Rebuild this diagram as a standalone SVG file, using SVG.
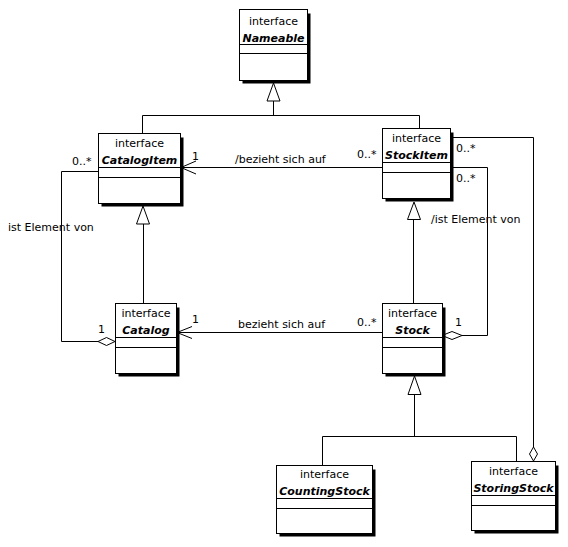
<svg xmlns="http://www.w3.org/2000/svg" width="568" height="547" viewBox="0 0 568 547">
<style>
.sh{fill:#000}
.bx{fill:#fff;stroke:#000;stroke-width:1}
.dv{stroke:#000;stroke-width:1}
text{font-family:"DejaVu Sans","Liberation Sans",sans-serif;font-size:11px;fill:#000}
.st{text-anchor:middle}
.nm{text-anchor:middle;font-weight:bold;font-style:italic}
.ln{fill:none;stroke:#000;stroke-width:1}
.tri{fill:#fff;stroke:#000;stroke-width:1}
.dia{fill:#fff;stroke:#000;stroke-width:1}
</style>
<rect width="568" height="547" fill="#fff"/>
<g id="connectors">
  <!-- generalizations to Nameable -->
  <polyline class="ln" points="273.5,101 273.5,115.5"/>
  <polyline class="ln" points="142.5,133 142.5,115.5 419.5,115.5 419.5,128"/>
  <polygon class="tri" points="273.5,83 280,101 267,101"/>
  <!-- Catalog to CatalogItem -->
  <polyline class="ln" points="143.5,224 143.5,303"/>
  <polygon class="tri" points="143,206 149.5,224 136.5,224"/>
  <!-- Stock to StockItem -->
  <polyline class="ln" points="413.5,219 413.5,303"/>
  <polygon class="tri" points="414,202 420.5,219.5 407.5,219.5"/>
  <!-- Counting/Storing to Stock -->
  <polyline class="ln" points="414.5,394 414.5,436.5"/>
  <polyline class="ln" points="322.5,465 322.5,436.5 516.5,436.5 516.5,461"/>
  <polygon class="tri" points="414.5,376 421,394.5 408,394.5"/>
  <!-- /bezieht sich auf -->
  <polyline class="ln" points="181,167.5 382,167.5"/>
  <polyline class="ln" points="196,161 181,167.5 196,174"/>
  <!-- bezieht sich auf -->
  <polyline class="ln" points="177,332.5 382,332.5"/>
  <polyline class="ln" points="192,326.5 177,332.5 192,338.5"/>
  <!-- ist Element von (Catalog) -->
  <polyline class="ln" points="98,171.5 61.5,171.5 61.5,341.5 98,341.5"/>
  <polygon class="dia" points="98,341.5 106.5,337.5 115,341.5 106.5,345.5"/>
  <!-- /ist Element von (Stock) -->
  <polyline class="ln" points="450,167.5 487.5,167.5 487.5,335.5 462,335.5"/>
  <polygon class="dia" points="442,335.5 452,331.5 462,335.5 452,339.5"/>
  <!-- StockItem to StoringStock -->
  <polyline class="ln" points="450,137.5 533.5,137.5 533.5,447"/>
  <polygon class="dia" points="533.5,447 537.5,454 533.5,461 529.5,454"/>
  <!-- labels -->
  <text x="192" y="160">1</text>
  <text x="235" y="163">/bezieht sich auf</text>
  <text x="357" y="158">0..*</text>
  <text x="72" y="165">0..*</text>
  <text x="8" y="231">ist Element von</text>
  <text x="456" y="152">0..*</text>
  <text x="456" y="182">0..*</text>
  <text x="431" y="223">/ist Element von</text>
  <text x="192" y="323">1</text>
  <text x="238" y="328">bezieht sich auf</text>
  <text x="357" y="326">0..*</text>
  <text x="98" y="333">1</text>
  <text x="455" y="326">1</text>
</g>
<g id="Nameable">
  <rect class="sh" x="242.5" y="13.5" width="68" height="70"/>
  <rect class="bx" x="239.5" y="9.5" width="68" height="71"/>
  <line class="dv" x1="239.5" y1="44.5" x2="307.5" y2="44.5"/>
  <line class="dv" x1="239.5" y1="53.5" x2="307.5" y2="53.5"/>
  <text class="st" x="273.5" y="25">interface</text>
  <text class="nm" x="273.5" y="42">Nameable</text>
</g>
<g id="CatalogItem">
  <rect class="sh" x="101.5" y="137.5" width="82" height="69"/>
  <rect class="bx" x="98.5" y="133.5" width="82" height="70"/>
  <line class="dv" x1="98.5" y1="167.5" x2="180.5" y2="167.5"/>
  <line class="dv" x1="98.5" y1="177.5" x2="180.5" y2="177.5"/>
  <text class="st" x="139.5" y="147">interface</text>
  <text class="nm" x="139.5" y="164">CatalogItem</text>
</g>
<g id="StockItem">
  <rect class="sh" x="385.5" y="132.5" width="68" height="69"/>
  <rect class="bx" x="382.5" y="128.5" width="68" height="70"/>
  <line class="dv" x1="382.5" y1="162.5" x2="450.5" y2="162.5"/>
  <line class="dv" x1="382.5" y1="172.5" x2="450.5" y2="172.5"/>
  <text class="st" x="416.5" y="142">interface</text>
  <text class="nm" x="416.5" y="158.5">StockItem</text>
</g>
<g id="Catalog">
  <rect class="sh" x="118.5" y="307.5" width="61" height="69"/>
  <rect class="bx" x="115.5" y="303.5" width="61" height="70"/>
  <line class="dv" x1="115.5" y1="337.5" x2="176.5" y2="337.5"/>
  <line class="dv" x1="115.5" y1="347.5" x2="176.5" y2="347.5"/>
  <text class="st" x="146" y="317">interface</text>
  <text class="nm" x="146" y="334">Catalog</text>
</g>
<g id="Stock">
  <rect class="sh" x="385.5" y="307.5" width="60" height="69"/>
  <rect class="bx" x="382.5" y="303.5" width="60" height="70"/>
  <line class="dv" x1="382.5" y1="337.5" x2="442.5" y2="337.5"/>
  <line class="dv" x1="382.5" y1="347.5" x2="442.5" y2="347.5"/>
  <text class="st" x="412.5" y="317">interface</text>
  <text class="nm" x="412.5" y="334">Stock</text>
</g>
<g id="CountingStock">
  <rect class="sh" x="279.5" y="469.5" width="96" height="67"/>
  <rect class="bx" x="276.5" y="465.5" width="96" height="68"/>
  <line class="dv" x1="276.5" y1="498.5" x2="372.5" y2="498.5"/>
  <line class="dv" x1="276.5" y1="508.5" x2="372.5" y2="508.5"/>
  <text class="st" x="324.5" y="478">interface</text>
  <text class="nm" x="324.5" y="495">CountingStock</text>
</g>
<g id="StoringStock">
  <rect class="sh" x="474.5" y="465.5" width="84" height="68"/>
  <rect class="bx" x="471.5" y="461.5" width="84" height="69"/>
  <line class="dv" x1="471.5" y1="495.5" x2="555.5" y2="495.5"/>
  <line class="dv" x1="471.5" y1="505.5" x2="555.5" y2="505.5"/>
  <text class="st" x="513.5" y="475">interface</text>
  <text class="nm" x="513.5" y="492">StoringStock</text>
</g>
</svg>
